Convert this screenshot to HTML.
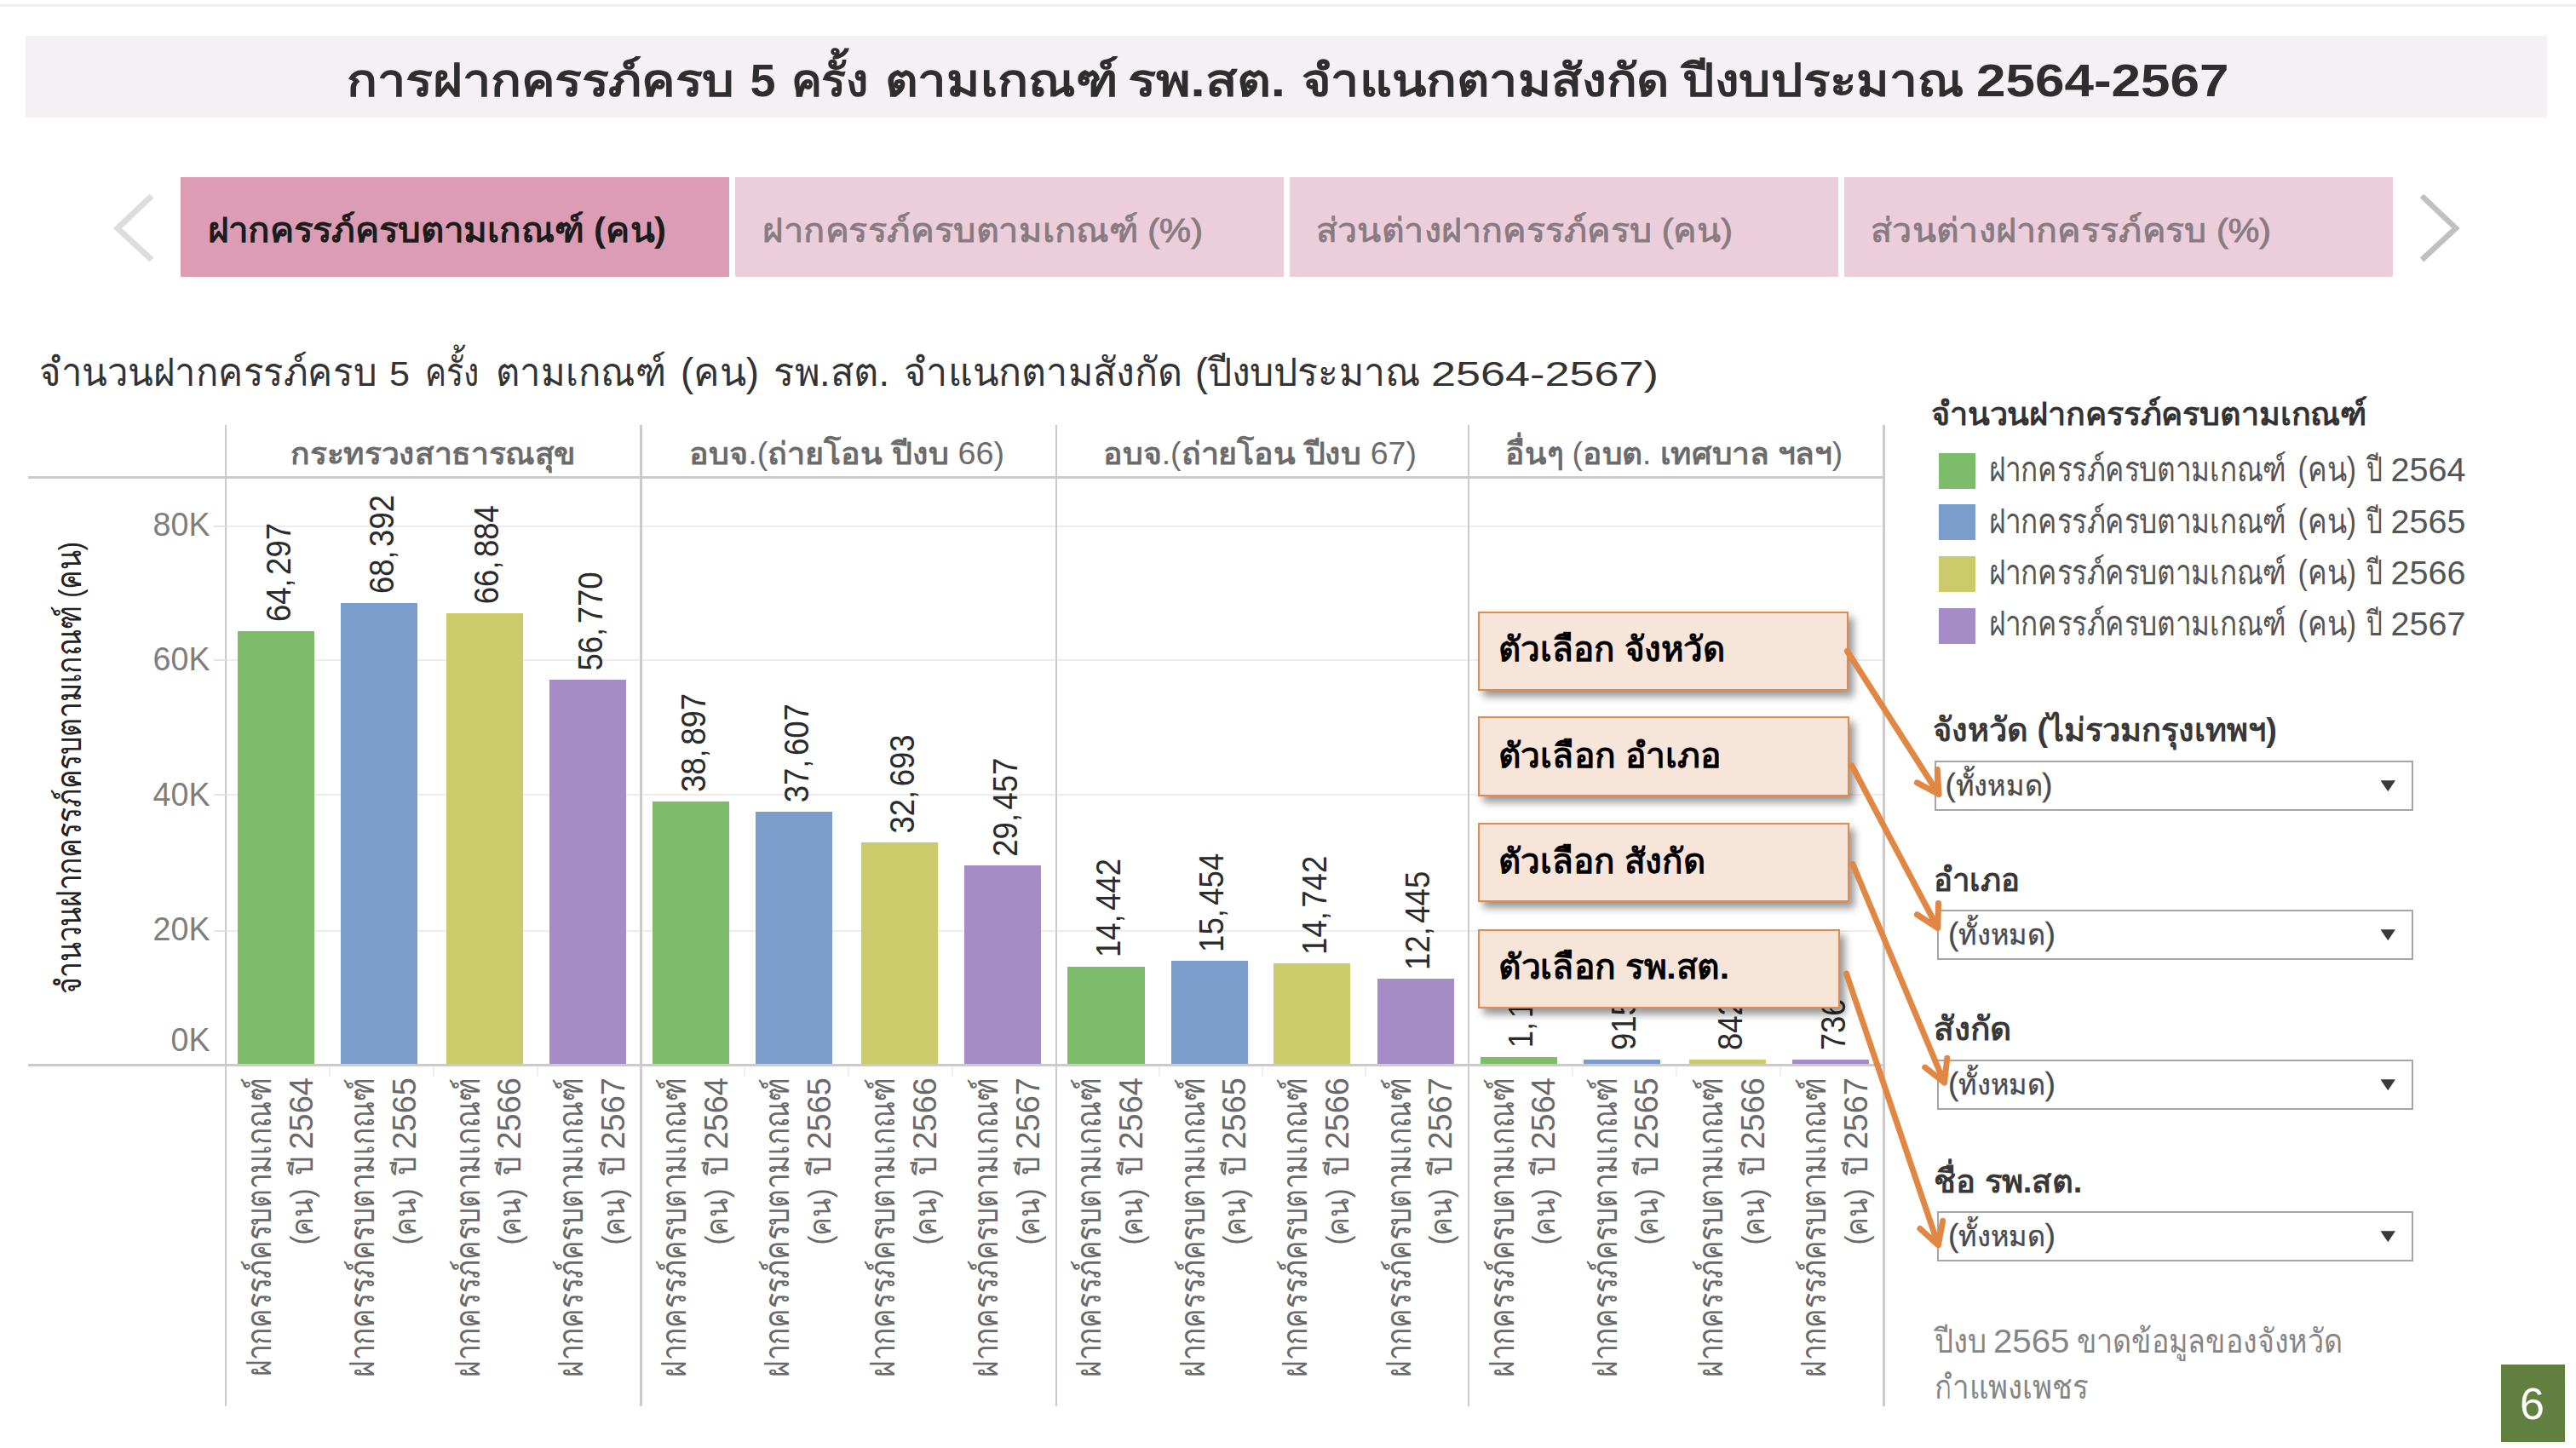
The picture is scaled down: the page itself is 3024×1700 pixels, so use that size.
<!DOCTYPE html>
<html lang="th"><head><meta charset="utf-8"><title>การฝากครรภ์ครบ 5 ครั้ง ตามเกณฑ์ รพ.สต.</title>
<style>
html,body{margin:0;padding:0;background:#fff}
body{width:3024px;height:1700px;position:relative;overflow:hidden;font-family:"Liberation Sans",sans-serif}
div{position:absolute;box-sizing:border-box}
svg{position:absolute;left:0;top:0;overflow:visible}
svg text{font-family:"Liberation Sans",sans-serif;white-space:pre}
.tab{top:208px;width:644px;height:117px;background:#eccedb}
.tab.on{background:#dc9db4}
.ln{background:#cbcbcb}
.grid{background:#ededed;left:251px;width:1960px;height:2px}
.g{background:#7cbc6a}.b{background:#7b9dcb}.y{background:#cccb6c}.p{background:#a68cc6}
.sw{left:2276.4px;width:42.2px;height:42px}
.dd{height:59px;border:2px solid #a6a6a6;background:#fff}
.call{background:#f8e5da;border:2px solid #e28a4c;box-shadow:6px 7px 9px rgba(0,0,0,.41)}
</style></head><body>

<!-- page chrome: top rule, title band, tab strip -->
<div style="left:0;top:5px;width:3024px;height:3px;background:#eff0f6"></div>
<div style="left:30px;top:42px;width:2960px;height:96px;background:#f5f0f4"></div>
<div class="tab on" style="left:212px"></div>
<div class="tab" style="left:863px"></div>
<div class="tab" style="left:1514px"></div>
<div class="tab" style="left:2165px"></div>
<!-- chart: gridlines, bars, axes -->
<div class="grid" style="top:616.5px"></div>
<div class="grid" style="top:774px"></div>
<div class="grid" style="top:932px"></div>
<div class="grid" style="top:1092.2px"></div>
<div class="g" style="left:278.9px;top:740.6px;width:90.3px;height:509.9px"></div>
<div class="b" style="left:399.8px;top:707.6px;width:90.3px;height:542.9px"></div>
<div class="y" style="left:523.5px;top:719.7px;width:90.3px;height:530.8px"></div>
<div class="p" style="left:644.8px;top:798.0px;width:90.3px;height:452.5px"></div>
<div class="g" style="left:765.9px;top:940.5px;width:90.3px;height:310.0px"></div>
<div class="b" style="left:887.0px;top:952.8px;width:90.3px;height:297.7px"></div>
<div class="y" style="left:1011.0px;top:989.0px;width:90.3px;height:261.5px"></div>
<div class="p" style="left:1132.2px;top:1016.2px;width:90.3px;height:234.3px"></div>
<div class="g" style="left:1253.4px;top:1134.5px;width:90.3px;height:116.0px"></div>
<div class="b" style="left:1374.6px;top:1128.4px;width:90.3px;height:122.1px"></div>
<div class="y" style="left:1495.2px;top:1131.4px;width:90.3px;height:119.1px"></div>
<div class="p" style="left:1616.5px;top:1149.4px;width:90.3px;height:101.1px"></div>
<div class="g" style="left:1737.6px;top:1240.7px;width:90.3px;height:9.8px"></div>
<div class="b" style="left:1858.7px;top:1243.6px;width:90.3px;height:6.9px"></div>
<div class="y" style="left:1982.9px;top:1243.6px;width:90.3px;height:6.9px"></div>
<div class="p" style="left:2103.9px;top:1243.8px;width:90.3px;height:6.7px"></div>
<div class="ln" style="left:33px;top:559.2px;width:2179.5px;height:2.5px"></div>
<div class="ln" style="left:33px;top:1249.4px;width:2179.5px;height:2.5px"></div>
<div class="ln" style="left:263.85px;top:498.5px;width:2.5px;height:1152.5px"></div>
<div class="ln" style="left:751.15px;top:498.5px;width:2.5px;height:1152.5px"></div>
<div class="ln" style="left:1238.55px;top:498.5px;width:2.5px;height:1152.5px"></div>
<div class="ln" style="left:1722.75px;top:498.5px;width:2.5px;height:1152.5px"></div>
<div class="ln" style="left:2210.05px;top:498.5px;width:2.5px;height:1152.5px"></div>
<div style="left:385.9px;top:1252px;width:2px;height:12px;background:#efefef"></div>
<div style="left:507.8px;top:1252px;width:2px;height:12px;background:#efefef"></div>
<div style="left:629.6px;top:1252px;width:2px;height:12px;background:#efefef"></div>
<div style="left:873.2px;top:1252px;width:2px;height:12px;background:#efefef"></div>
<div style="left:995.1px;top:1252px;width:2px;height:12px;background:#efefef"></div>
<div style="left:1116.9px;top:1252px;width:2px;height:12px;background:#efefef"></div>
<div style="left:1359.8px;top:1252px;width:2px;height:12px;background:#efefef"></div>
<div style="left:1480.9px;top:1252px;width:2px;height:12px;background:#efefef"></div>
<div style="left:1602.0px;top:1252px;width:2px;height:12px;background:#efefef"></div>
<div style="left:1844.8px;top:1252px;width:2px;height:12px;background:#efefef"></div>
<div style="left:1966.7px;top:1252px;width:2px;height:12px;background:#efefef"></div>
<div style="left:2088.5px;top:1252px;width:2px;height:12px;background:#efefef"></div>
<div style="left:251px;top:616.5px;width:14px;height:2px;background:#e4e4e4"></div>
<div style="left:251px;top:774px;width:14px;height:2px;background:#e4e4e4"></div>
<div style="left:251px;top:932px;width:14px;height:2px;background:#e4e4e4"></div>
<div style="left:251px;top:1092.2px;width:14px;height:2px;background:#e4e4e4"></div>
<!-- side panel: legend swatches, filter dropdowns, slide number -->
<div class="sw g" style="top:531.5px"></div>
<div class="sw b" style="top:592.4px"></div>
<div class="sw y" style="top:653.1px"></div>
<div class="sw p" style="top:713.8px"></div>
<div class="dd" style="left:2270.5px;top:892.5px;width:562.5px"></div>
<div class="dd" style="left:2274px;top:1068px;width:559px"></div>
<div class="dd" style="left:2274px;top:1244px;width:559px"></div>
<div class="dd" style="left:2274px;top:1422px;width:559px"></div>
<div style="left:2936px;top:1602px;width:75px;height:91px;background:#61803f"></div>
<!-- all dashboard text (pinned with textLength so fallback fonts cannot shift layout) -->
<svg width="3024" height="1700" viewBox="0 0 3024 1700">
<text y="113" font-size="53" fill="#2e2e2e" font-weight="bold"><tspan x="407" textLength="455" lengthAdjust="spacingAndGlyphs">การฝากครรภ์ครบ</tspan> <tspan x="880.5" textLength="30.0" lengthAdjust="spacingAndGlyphs">5</tspan> <tspan x="928.5" textLength="90.5" lengthAdjust="spacingAndGlyphs">ครั้ง</tspan> <tspan x="1039" textLength="273.5" lengthAdjust="spacingAndGlyphs">ตามเกณฑ์</tspan> <tspan x="1324" textLength="185" lengthAdjust="spacingAndGlyphs">รพ.สต.</tspan> <tspan x="1527.5" textLength="432.0" lengthAdjust="spacingAndGlyphs">จำแนกตามสังกัด</tspan> <tspan x="1975" textLength="330" lengthAdjust="spacingAndGlyphs">ปีงบประมาณ</tspan> <tspan x="2320" textLength="296.5" lengthAdjust="spacingAndGlyphs">2564-2567</tspan></text>
<text x="244" y="284" font-size="40" fill="#1c1c1c" font-weight="bold" textLength="538" lengthAdjust="spacingAndGlyphs">ฝากครรภ์ครบตามเกณฑ์ (คน)</text>
<text x="895" y="284" font-size="39" fill="#877b81" textLength="517" lengthAdjust="spacingAndGlyphs" stroke="#877b81" stroke-width="0.9">ฝากครรภ์ครบตามเกณฑ์ (%)</text>
<text x="1545" y="284" font-size="39" fill="#877b81" textLength="489" lengthAdjust="spacingAndGlyphs" stroke="#877b81" stroke-width="0.9">ส่วนต่างฝากครรภ์ครบ (คน)</text>
<text x="2196" y="284" font-size="39" fill="#877b81" textLength="470" lengthAdjust="spacingAndGlyphs" stroke="#877b81" stroke-width="0.9">ส่วนต่างฝากครรภ์ครบ (%)</text>
<polyline points="178,230 138,268 178,305" fill="none" stroke="#dddddd" stroke-width="7"/>
<polyline points="2843,230 2883,268 2843,305" fill="none" stroke="#c0c0c0" stroke-width="6.5"/>
<text y="453" font-size="46" fill="#333"><tspan x="46" textLength="396" lengthAdjust="spacingAndGlyphs">จำนวนฝากครรภ์ครบ</tspan> <tspan x="457" textLength="24" lengthAdjust="spacingAndGlyphs" font-size="40">5</tspan> <tspan x="498.5" textLength="63.5" lengthAdjust="spacingAndGlyphs">ครั้ง</tspan> <tspan x="582" textLength="200" lengthAdjust="spacingAndGlyphs">ตามเกณฑ์</tspan> <tspan x="799" textLength="92" lengthAdjust="spacingAndGlyphs">(คน)</tspan> <tspan x="908" textLength="136" lengthAdjust="spacingAndGlyphs">รพ.สต.</tspan> <tspan x="1061" textLength="327" lengthAdjust="spacingAndGlyphs">จำแนกตามสังกัด</tspan> <tspan x="1403" textLength="264.5" lengthAdjust="spacingAndGlyphs">(ปีงบประมาณ</tspan> <tspan x="1680" textLength="267" lengthAdjust="spacingAndGlyphs" font-size="40">2564-2567)</tspan></text>
<text x="341.2" y="545" font-size="36" fill="#6b6b6b" font-weight="bold" textLength="335" lengthAdjust="spacingAndGlyphs">กระทรวงสาธารณสุข</text>
<text x="809.1" y="545" font-size="36" fill="#6b6b6b" font-weight="bold" textLength="370" lengthAdjust="spacingAndGlyphs">อบจ<tspan font-size="36" font-weight="normal">.(</tspan>ถ่ายโอน ปีงบ <tspan font-size="36" font-weight="normal">66)</tspan></text>
<text x="1294.9" y="545" font-size="36" fill="#6b6b6b" font-weight="bold" textLength="368" lengthAdjust="spacingAndGlyphs">อบจ<tspan font-size="36" font-weight="normal">.(</tspan>ถ่ายโอน ปีงบ <tspan font-size="36" font-weight="normal">67)</tspan></text>
<text x="1767.2" y="545" font-size="36" fill="#6b6b6b" font-weight="bold" textLength="396" lengthAdjust="spacingAndGlyphs">อื่นๆ <tspan font-size="36" font-weight="normal">(</tspan>อบต<tspan font-size="36" font-weight="normal">.</tspan> เทศบาล ฯลฯ<tspan font-size="36" font-weight="normal">)</tspan></text>
<text x="246.5" y="628.7" font-size="39" fill="#7e7e7e" text-anchor="end" textLength="67.0" lengthAdjust="spacingAndGlyphs">80K</text>
<text x="246.5" y="787" font-size="39" fill="#7e7e7e" text-anchor="end" textLength="67.0" lengthAdjust="spacingAndGlyphs">60K</text>
<text x="246.5" y="945.5" font-size="39" fill="#7e7e7e" text-anchor="end" textLength="67.0" lengthAdjust="spacingAndGlyphs">40K</text>
<text x="246.5" y="1104" font-size="39" fill="#7e7e7e" text-anchor="end" textLength="67.0" lengthAdjust="spacingAndGlyphs">20K</text>
<text x="246.5" y="1234" font-size="39" fill="#7e7e7e" text-anchor="end" textLength="46.0" lengthAdjust="spacingAndGlyphs">0K</text>
<text x="95" y="1167" font-size="40" fill="#222" textLength="531" lengthAdjust="spacingAndGlyphs" transform="rotate(-90 95 1167)">จำนวนฝากครรภ์ครบตามเกณฑ์ <tspan font-size="36">(</tspan>คน<tspan font-size="36">)</tspan></text>
<text x="340.7" y="730.1" font-size="41" fill="#2b2b2b" textLength="116.1" lengthAdjust="spacingAndGlyphs" transform="rotate(-90 340.7 730.1)">64,<tspan dx="5">297</tspan></text>
<text x="461.6" y="697.1" font-size="41" fill="#2b2b2b" textLength="116.1" lengthAdjust="spacingAndGlyphs" transform="rotate(-90 461.6 697.1)">68,<tspan dx="5">392</tspan></text>
<text x="585.3" y="709.2" font-size="41" fill="#2b2b2b" textLength="116.1" lengthAdjust="spacingAndGlyphs" transform="rotate(-90 585.3 709.2)">66,<tspan dx="5">884</tspan></text>
<text x="706.6" y="787.5" font-size="41" fill="#2b2b2b" textLength="116.1" lengthAdjust="spacingAndGlyphs" transform="rotate(-90 706.6 787.5)">56,<tspan dx="5">770</tspan></text>
<text x="827.7" y="930.0" font-size="41" fill="#2b2b2b" textLength="116.1" lengthAdjust="spacingAndGlyphs" transform="rotate(-90 827.7 930.0)">38,<tspan dx="5">897</tspan></text>
<text x="948.8" y="942.3" font-size="41" fill="#2b2b2b" textLength="116.1" lengthAdjust="spacingAndGlyphs" transform="rotate(-90 948.8 942.3)">37,<tspan dx="5">607</tspan></text>
<text x="1072.8" y="978.5" font-size="41" fill="#2b2b2b" textLength="116.1" lengthAdjust="spacingAndGlyphs" transform="rotate(-90 1072.8 978.5)">32,<tspan dx="5">693</tspan></text>
<text x="1194.0" y="1005.7" font-size="41" fill="#2b2b2b" textLength="116.1" lengthAdjust="spacingAndGlyphs" transform="rotate(-90 1194.0 1005.7)">29,<tspan dx="5">457</tspan></text>
<text x="1315.2" y="1124.0" font-size="41" fill="#2b2b2b" textLength="116.1" lengthAdjust="spacingAndGlyphs" transform="rotate(-90 1315.2 1124.0)">14,<tspan dx="5">442</tspan></text>
<text x="1436.4" y="1117.9" font-size="41" fill="#2b2b2b" textLength="116.1" lengthAdjust="spacingAndGlyphs" transform="rotate(-90 1436.4 1117.9)">15,<tspan dx="5">454</tspan></text>
<text x="1557.0" y="1120.9" font-size="41" fill="#2b2b2b" textLength="116.1" lengthAdjust="spacingAndGlyphs" transform="rotate(-90 1557.0 1120.9)">14,<tspan dx="5">742</tspan></text>
<text x="1678.3" y="1138.9" font-size="41" fill="#2b2b2b" textLength="116.1" lengthAdjust="spacingAndGlyphs" transform="rotate(-90 1678.3 1138.9)">12,<tspan dx="5">445</tspan></text>
<text x="1799.4" y="1230.2" font-size="41" fill="#2b2b2b" textLength="95.8" lengthAdjust="spacingAndGlyphs" transform="rotate(-90 1799.4 1230.2)">1,<tspan dx="5">129</tspan></text>
<text x="1920.5" y="1233.1" font-size="41" fill="#2b2b2b" textLength="60.9" lengthAdjust="spacingAndGlyphs" transform="rotate(-90 1920.5 1233.1)">915</text>
<text x="2044.7" y="1233.1" font-size="41" fill="#2b2b2b" textLength="60.9" lengthAdjust="spacingAndGlyphs" transform="rotate(-90 2044.7 1233.1)">842</text>
<text x="2165.7" y="1233.3" font-size="41" fill="#2b2b2b" textLength="60.9" lengthAdjust="spacingAndGlyphs" transform="rotate(-90 2165.7 1233.3)">736</text>
<text x="317.9" y="1265.5" font-size="40" fill="#696969" text-anchor="end" textLength="351" lengthAdjust="spacingAndGlyphs" transform="rotate(-90 317.9 1265.5)">ฝากครรภ์ครบตามเกณฑ์</text>
<text y="0" font-size="36" fill="#696969" transform="translate(366.6 1461.5) rotate(-90)"><tspan x="0" textLength="66" lengthAdjust="spacingAndGlyphs">(คน)</tspan> <tspan x="82" textLength="22.5" lengthAdjust="spacingAndGlyphs">ปี</tspan> <tspan x="112" textLength="84.5" lengthAdjust="spacingAndGlyphs" font-size="38">2564</tspan></text>
<text x="438.8" y="1265.5" font-size="40" fill="#696969" text-anchor="end" textLength="351" lengthAdjust="spacingAndGlyphs" transform="rotate(-90 438.8 1265.5)">ฝากครรภ์ครบตามเกณฑ์</text>
<text y="0" font-size="36" fill="#696969" transform="translate(487.5 1461.5) rotate(-90)"><tspan x="0" textLength="66" lengthAdjust="spacingAndGlyphs">(คน)</tspan> <tspan x="82" textLength="22.5" lengthAdjust="spacingAndGlyphs">ปี</tspan> <tspan x="112" textLength="84.5" lengthAdjust="spacingAndGlyphs" font-size="38">2565</tspan></text>
<text x="562.5" y="1265.5" font-size="40" fill="#696969" text-anchor="end" textLength="351" lengthAdjust="spacingAndGlyphs" transform="rotate(-90 562.5 1265.5)">ฝากครรภ์ครบตามเกณฑ์</text>
<text y="0" font-size="36" fill="#696969" transform="translate(611.2 1461.5) rotate(-90)"><tspan x="0" textLength="66" lengthAdjust="spacingAndGlyphs">(คน)</tspan> <tspan x="82" textLength="22.5" lengthAdjust="spacingAndGlyphs">ปี</tspan> <tspan x="112" textLength="84.5" lengthAdjust="spacingAndGlyphs" font-size="38">2566</tspan></text>
<text x="683.8" y="1265.5" font-size="40" fill="#696969" text-anchor="end" textLength="351" lengthAdjust="spacingAndGlyphs" transform="rotate(-90 683.8 1265.5)">ฝากครรภ์ครบตามเกณฑ์</text>
<text y="0" font-size="36" fill="#696969" transform="translate(732.5 1461.5) rotate(-90)"><tspan x="0" textLength="66" lengthAdjust="spacingAndGlyphs">(คน)</tspan> <tspan x="82" textLength="22.5" lengthAdjust="spacingAndGlyphs">ปี</tspan> <tspan x="112" textLength="84.5" lengthAdjust="spacingAndGlyphs" font-size="38">2567</tspan></text>
<text x="804.9" y="1265.5" font-size="40" fill="#696969" text-anchor="end" textLength="351" lengthAdjust="spacingAndGlyphs" transform="rotate(-90 804.9 1265.5)">ฝากครรภ์ครบตามเกณฑ์</text>
<text y="0" font-size="36" fill="#696969" transform="translate(853.6 1461.5) rotate(-90)"><tspan x="0" textLength="66" lengthAdjust="spacingAndGlyphs">(คน)</tspan> <tspan x="82" textLength="22.5" lengthAdjust="spacingAndGlyphs">ปี</tspan> <tspan x="112" textLength="84.5" lengthAdjust="spacingAndGlyphs" font-size="38">2564</tspan></text>
<text x="926.0" y="1265.5" font-size="40" fill="#696969" text-anchor="end" textLength="351" lengthAdjust="spacingAndGlyphs" transform="rotate(-90 926.0 1265.5)">ฝากครรภ์ครบตามเกณฑ์</text>
<text y="0" font-size="36" fill="#696969" transform="translate(974.7 1461.5) rotate(-90)"><tspan x="0" textLength="66" lengthAdjust="spacingAndGlyphs">(คน)</tspan> <tspan x="82" textLength="22.5" lengthAdjust="spacingAndGlyphs">ปี</tspan> <tspan x="112" textLength="84.5" lengthAdjust="spacingAndGlyphs" font-size="38">2565</tspan></text>
<text x="1050.0" y="1265.5" font-size="40" fill="#696969" text-anchor="end" textLength="351" lengthAdjust="spacingAndGlyphs" transform="rotate(-90 1050.0 1265.5)">ฝากครรภ์ครบตามเกณฑ์</text>
<text y="0" font-size="36" fill="#696969" transform="translate(1098.7 1461.5) rotate(-90)"><tspan x="0" textLength="66" lengthAdjust="spacingAndGlyphs">(คน)</tspan> <tspan x="82" textLength="22.5" lengthAdjust="spacingAndGlyphs">ปี</tspan> <tspan x="112" textLength="84.5" lengthAdjust="spacingAndGlyphs" font-size="38">2566</tspan></text>
<text x="1171.2" y="1265.5" font-size="40" fill="#696969" text-anchor="end" textLength="351" lengthAdjust="spacingAndGlyphs" transform="rotate(-90 1171.2 1265.5)">ฝากครรภ์ครบตามเกณฑ์</text>
<text y="0" font-size="36" fill="#696969" transform="translate(1219.9 1461.5) rotate(-90)"><tspan x="0" textLength="66" lengthAdjust="spacingAndGlyphs">(คน)</tspan> <tspan x="82" textLength="22.5" lengthAdjust="spacingAndGlyphs">ปี</tspan> <tspan x="112" textLength="84.5" lengthAdjust="spacingAndGlyphs" font-size="38">2567</tspan></text>
<text x="1292.4" y="1265.5" font-size="40" fill="#696969" text-anchor="end" textLength="351" lengthAdjust="spacingAndGlyphs" transform="rotate(-90 1292.4 1265.5)">ฝากครรภ์ครบตามเกณฑ์</text>
<text y="0" font-size="36" fill="#696969" transform="translate(1341.1 1461.5) rotate(-90)"><tspan x="0" textLength="66" lengthAdjust="spacingAndGlyphs">(คน)</tspan> <tspan x="82" textLength="22.5" lengthAdjust="spacingAndGlyphs">ปี</tspan> <tspan x="112" textLength="84.5" lengthAdjust="spacingAndGlyphs" font-size="38">2564</tspan></text>
<text x="1413.6" y="1265.5" font-size="40" fill="#696969" text-anchor="end" textLength="351" lengthAdjust="spacingAndGlyphs" transform="rotate(-90 1413.6 1265.5)">ฝากครรภ์ครบตามเกณฑ์</text>
<text y="0" font-size="36" fill="#696969" transform="translate(1462.3 1461.5) rotate(-90)"><tspan x="0" textLength="66" lengthAdjust="spacingAndGlyphs">(คน)</tspan> <tspan x="82" textLength="22.5" lengthAdjust="spacingAndGlyphs">ปี</tspan> <tspan x="112" textLength="84.5" lengthAdjust="spacingAndGlyphs" font-size="38">2565</tspan></text>
<text x="1534.2" y="1265.5" font-size="40" fill="#696969" text-anchor="end" textLength="351" lengthAdjust="spacingAndGlyphs" transform="rotate(-90 1534.2 1265.5)">ฝากครรภ์ครบตามเกณฑ์</text>
<text y="0" font-size="36" fill="#696969" transform="translate(1582.9 1461.5) rotate(-90)"><tspan x="0" textLength="66" lengthAdjust="spacingAndGlyphs">(คน)</tspan> <tspan x="82" textLength="22.5" lengthAdjust="spacingAndGlyphs">ปี</tspan> <tspan x="112" textLength="84.5" lengthAdjust="spacingAndGlyphs" font-size="38">2566</tspan></text>
<text x="1655.5" y="1265.5" font-size="40" fill="#696969" text-anchor="end" textLength="351" lengthAdjust="spacingAndGlyphs" transform="rotate(-90 1655.5 1265.5)">ฝากครรภ์ครบตามเกณฑ์</text>
<text y="0" font-size="36" fill="#696969" transform="translate(1704.2 1461.5) rotate(-90)"><tspan x="0" textLength="66" lengthAdjust="spacingAndGlyphs">(คน)</tspan> <tspan x="82" textLength="22.5" lengthAdjust="spacingAndGlyphs">ปี</tspan> <tspan x="112" textLength="84.5" lengthAdjust="spacingAndGlyphs" font-size="38">2567</tspan></text>
<text x="1776.6" y="1265.5" font-size="40" fill="#696969" text-anchor="end" textLength="351" lengthAdjust="spacingAndGlyphs" transform="rotate(-90 1776.6 1265.5)">ฝากครรภ์ครบตามเกณฑ์</text>
<text y="0" font-size="36" fill="#696969" transform="translate(1825.3 1461.5) rotate(-90)"><tspan x="0" textLength="66" lengthAdjust="spacingAndGlyphs">(คน)</tspan> <tspan x="82" textLength="22.5" lengthAdjust="spacingAndGlyphs">ปี</tspan> <tspan x="112" textLength="84.5" lengthAdjust="spacingAndGlyphs" font-size="38">2564</tspan></text>
<text x="1897.7" y="1265.5" font-size="40" fill="#696969" text-anchor="end" textLength="351" lengthAdjust="spacingAndGlyphs" transform="rotate(-90 1897.7 1265.5)">ฝากครรภ์ครบตามเกณฑ์</text>
<text y="0" font-size="36" fill="#696969" transform="translate(1946.4 1461.5) rotate(-90)"><tspan x="0" textLength="66" lengthAdjust="spacingAndGlyphs">(คน)</tspan> <tspan x="82" textLength="22.5" lengthAdjust="spacingAndGlyphs">ปี</tspan> <tspan x="112" textLength="84.5" lengthAdjust="spacingAndGlyphs" font-size="38">2565</tspan></text>
<text x="2021.9" y="1265.5" font-size="40" fill="#696969" text-anchor="end" textLength="351" lengthAdjust="spacingAndGlyphs" transform="rotate(-90 2021.9 1265.5)">ฝากครรภ์ครบตามเกณฑ์</text>
<text y="0" font-size="36" fill="#696969" transform="translate(2070.6 1461.5) rotate(-90)"><tspan x="0" textLength="66" lengthAdjust="spacingAndGlyphs">(คน)</tspan> <tspan x="82" textLength="22.5" lengthAdjust="spacingAndGlyphs">ปี</tspan> <tspan x="112" textLength="84.5" lengthAdjust="spacingAndGlyphs" font-size="38">2566</tspan></text>
<text x="2142.9" y="1265.5" font-size="40" fill="#696969" text-anchor="end" textLength="351" lengthAdjust="spacingAndGlyphs" transform="rotate(-90 2142.9 1265.5)">ฝากครรภ์ครบตามเกณฑ์</text>
<text y="0" font-size="36" fill="#696969" transform="translate(2191.6 1461.5) rotate(-90)"><tspan x="0" textLength="66" lengthAdjust="spacingAndGlyphs">(คน)</tspan> <tspan x="82" textLength="22.5" lengthAdjust="spacingAndGlyphs">ปี</tspan> <tspan x="112" textLength="84.5" lengthAdjust="spacingAndGlyphs" font-size="38">2567</tspan></text>
<text x="2267" y="498.8" font-size="38" fill="#333" font-weight="bold" textLength="512" lengthAdjust="spacingAndGlyphs">จำนวนฝากครรภ์ครบตามเกณฑ์</text>
<text y="564.8" font-size="40" fill="#555"><tspan x="2334.5" textLength="349.5" lengthAdjust="spacingAndGlyphs">ฝากครรภ์ครบตามเกณฑ์</tspan> <tspan x="2697.5" textLength="68.5" lengthAdjust="spacingAndGlyphs">(คน)</tspan> <tspan x="2778" textLength="18.5" lengthAdjust="spacingAndGlyphs">ปี</tspan> <tspan x="2806.5" textLength="88.0" lengthAdjust="spacingAndGlyphs" font-size="38">2564</tspan></text>
<text y="625.5" font-size="40" fill="#555"><tspan x="2334.5" textLength="349.5" lengthAdjust="spacingAndGlyphs">ฝากครรภ์ครบตามเกณฑ์</tspan> <tspan x="2697.5" textLength="68.5" lengthAdjust="spacingAndGlyphs">(คน)</tspan> <tspan x="2778" textLength="18.5" lengthAdjust="spacingAndGlyphs">ปี</tspan> <tspan x="2806.5" textLength="88.0" lengthAdjust="spacingAndGlyphs" font-size="38">2565</tspan></text>
<text y="685.8" font-size="40" fill="#555"><tspan x="2334.5" textLength="349.5" lengthAdjust="spacingAndGlyphs">ฝากครรภ์ครบตามเกณฑ์</tspan> <tspan x="2697.5" textLength="68.5" lengthAdjust="spacingAndGlyphs">(คน)</tspan> <tspan x="2778" textLength="18.5" lengthAdjust="spacingAndGlyphs">ปี</tspan> <tspan x="2806.5" textLength="88.0" lengthAdjust="spacingAndGlyphs" font-size="38">2566</tspan></text>
<text y="746.2" font-size="40" fill="#555"><tspan x="2334.5" textLength="349.5" lengthAdjust="spacingAndGlyphs">ฝากครรภ์ครบตามเกณฑ์</tspan> <tspan x="2697.5" textLength="68.5" lengthAdjust="spacingAndGlyphs">(คน)</tspan> <tspan x="2778" textLength="18.5" lengthAdjust="spacingAndGlyphs">ปี</tspan> <tspan x="2806.5" textLength="88.0" lengthAdjust="spacingAndGlyphs" font-size="38">2567</tspan></text>
<text x="2269" y="869.5" font-size="38" fill="#383838" font-weight="bold" textLength="404" lengthAdjust="spacingAndGlyphs">จังหวัด (ไม่รวมกรุงเทพฯ)</text>
<text x="2270" y="1046" font-size="38" fill="#383838" font-weight="bold" textLength="101" lengthAdjust="spacingAndGlyphs">อำเภอ</text>
<text x="2270" y="1221" font-size="38" fill="#383838" font-weight="bold" textLength="92" lengthAdjust="spacingAndGlyphs">สังกัด</text>
<text x="2269.5" y="1400" font-size="38" fill="#383838" font-weight="bold" textLength="175" lengthAdjust="spacingAndGlyphs">ชื่อ รพ.สต.</text>
<text x="2283.5" y="934.3" font-size="33" fill="#4a4a4a" textLength="126" lengthAdjust="spacingAndGlyphs" stroke="#4a4a4a" stroke-width="0.35"><tspan font-size="37">(</tspan>ทั้งหมด<tspan font-size="37">)</tspan></text>
<path d="M2794.5 916.3 h17.5 l-8.75 13 z" fill="#3a3a3a"/>
<text x="2287" y="1109.3" font-size="33" fill="#4a4a4a" textLength="126" lengthAdjust="spacingAndGlyphs" stroke="#4a4a4a" stroke-width="0.35"><tspan font-size="37">(</tspan>ทั้งหมด<tspan font-size="37">)</tspan></text>
<path d="M2794.5 1091.3 h17.5 l-8.75 13 z" fill="#3a3a3a"/>
<text x="2287" y="1285.3" font-size="33" fill="#4a4a4a" textLength="126" lengthAdjust="spacingAndGlyphs" stroke="#4a4a4a" stroke-width="0.35"><tspan font-size="37">(</tspan>ทั้งหมด<tspan font-size="37">)</tspan></text>
<path d="M2794.5 1267.3 h17.5 l-8.75 13 z" fill="#3a3a3a"/>
<text x="2287" y="1463.3" font-size="33" fill="#4a4a4a" textLength="126" lengthAdjust="spacingAndGlyphs" stroke="#4a4a4a" stroke-width="0.35"><tspan font-size="37">(</tspan>ทั้งหมด<tspan font-size="37">)</tspan></text>
<path d="M2794.5 1445.3 h17.5 l-8.75 13 z" fill="#3a3a3a"/>
<text y="1587.5" font-size="39" fill="#858585"><tspan x="2270.5" textLength="61.5" lengthAdjust="spacingAndGlyphs">ปีงบ</tspan> <tspan x="2340" textLength="89.5" lengthAdjust="spacingAndGlyphs" font-size="38">2565</tspan> <tspan x="2437.5" textLength="312.5" lengthAdjust="spacingAndGlyphs">ขาดข้อมูลของจังหวัด</tspan></text>
<text y="1642" font-size="39" fill="#858585"><tspan x="2270.5" textLength="181.0" lengthAdjust="spacingAndGlyphs">กำแพงเพชร</tspan></text>
<text x="2972.5" y="1666" font-size="52" fill="#fff" text-anchor="middle">6</text>
</svg>
<!-- annotation callouts + arrows (drawn above the chart) -->
<div class="call" style="left:1735px;top:717.5px;width:435px;height:93px"></div>
<div class="call" style="left:1735px;top:841.4px;width:436px;height:93.3px"></div>
<div class="call" style="left:1735px;top:966px;width:436px;height:93.3px"></div>
<div class="call" style="left:1735px;top:1090.8px;width:425px;height:92.8px"></div>
<svg width="3024" height="1700" viewBox="0 0 3024 1700">
<text x="1759" y="776.3" font-size="40" fill="#000" font-weight="bold" textLength="266" lengthAdjust="spacingAndGlyphs">ตัวเลือก จังหวัด</text>
<text x="1759" y="900.5" font-size="40" fill="#000" font-weight="bold" textLength="261" lengthAdjust="spacingAndGlyphs">ตัวเลือก อำเภอ</text>
<text x="1759" y="1024.5" font-size="40" fill="#000" font-weight="bold" textLength="243" lengthAdjust="spacingAndGlyphs">ตัวเลือก สังกัด</text>
<text x="1759" y="1149" font-size="40" fill="#000" font-weight="bold" textLength="271" lengthAdjust="spacingAndGlyphs">ตัวเลือก รพ.สต.</text>
<path d="M2168.5 764.5 L2276 932.5 M2250.4 918.8 L2276 932.5 L2274.3 903.6" fill="none" stroke="#e18744" stroke-width="7" stroke-linecap="round" stroke-linejoin="round"/>
<path d="M2174 899 L2274.8 1089.5 M2250.4 1073.8 L2274.8 1089.5 L2275.5 1060.5" fill="none" stroke="#e18744" stroke-width="7" stroke-linecap="round" stroke-linejoin="round"/>
<path d="M2175 1014.5 L2282.5 1271 M2259.7 1253.1 L2282.5 1271 L2285.8 1242.2" fill="none" stroke="#e18744" stroke-width="7" stroke-linecap="round" stroke-linejoin="round"/>
<path d="M2167.5 1143 L2275.4 1461.9 M2253.9 1442.5 L2275.4 1461.9 L2280.7 1433.4" fill="none" stroke="#e18744" stroke-width="7" stroke-linecap="round" stroke-linejoin="round"/>
</svg>
</body></html>
